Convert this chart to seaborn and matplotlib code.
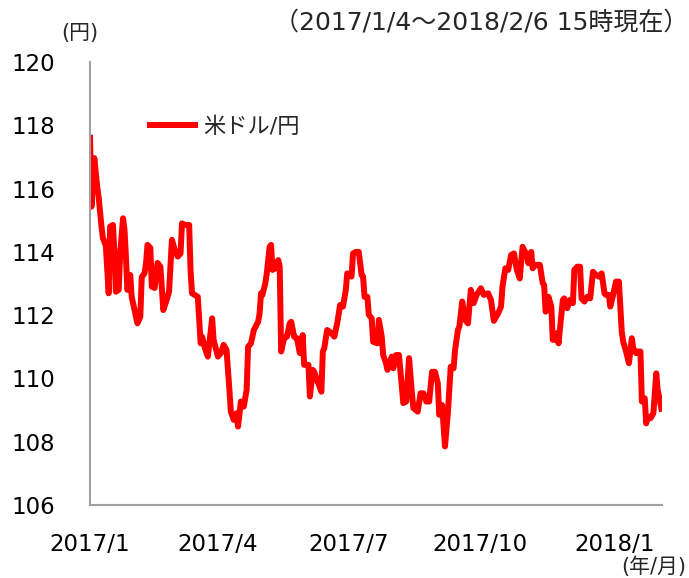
import numpy as np
import pandas as pd
import matplotlib
matplotlib.use("Agg")
import matplotlib.pyplot as plt
import seaborn as sns

# ---- data ----
# day offsets from 2017-01-01
days = [3,4,6,8,9,11,12,14,16,17,
        19,20,21,23,24,26,27,28,29,31,
        32,36,38,39,41,42,43,45,46,48,
        50,52,54,56,58,60,62,64,66,67,
        69,72,73,74,78,80,81,83,85,88,
        89,92,94,96,98,100,101,103,105,106,
        108,110,112,113,115,117,120,121,122,123,
        125,126,128,129,130,132,134,135,136,138,
        140,142,143,145,147,149,151,152,155,156,
        158,159,161,164,165,166,168,171,173,175,
        177,179,181,182,185,186,188,190,192,193,
        194,196,197,199,200,203,204,206,207,209,
        210,213,214,216,218,221,223,225,227,228,
        231,233,235,237,239,241,243,245,246,248,
        250,252,254,256,257,259,260,262,264,266,
        268,270,272,275,277,280,282,284,287,289,
        290,292,294,296,298,300,302,304,305,307,
        308,310,311,313,316,318,319,320,321,322,
        324,325,327,328,329,332,333,335,337,339,
        340,342,344,345,347,349,351,353,355,357,
        359,361,362,364,365,367,369,371,373,374,
        376,378,380,381,383,384,386,387,389,390,
        391,393,395,397,398,401]

usdjpy = [117.70,115.43,116.96,116.06,115.74,114.80,114.43,114.20,112.69,114.80,
          114.85,113.95,112.74,112.80,113.96,115.06,114.70,113.85,112.80,113.27,
          112.58,111.74,111.95,113.20,113.33,113.65,114.22,114.12,112.90,112.86,
          113.65,113.53,112.16,112.43,112.74,114.38,114.06,113.85,113.95,114.90,
          114.85,114.85,113.37,112.69,112.58,111.11,111.32,110.95,110.69,111.90,
          111.22,110.69,110.80,111.06,110.90,109.64,108.95,108.69,108.90,108.48,
          109.27,109.11,109.64,111.00,111.11,111.53,111.79,112.06,112.69,112.64,
          113.01,113.32,114.16,114.22,113.43,113.48,113.74,113.53,110.85,111.27,
          111.32,111.74,111.79,111.32,111.27,110.80,111.37,110.43,110.43,109.43,
          110.27,110.21,109.95,109.58,110.85,110.95,111.53,111.43,111.32,111.74,
          112.32,112.27,112.80,113.32,113.22,113.95,114.00,114.00,113.27,113.22,
          112.58,112.58,112.01,111.90,111.16,111.11,111.85,111.32,110.74,110.48,
          110.27,110.69,110.32,110.74,110.74,109.22,109.27,110.64,109.53,109.06,
          108.95,109.53,109.53,109.27,109.27,110.21,110.21,109.85,108.85,109.16,
          107.85,108.90,110.37,110.32,110.90,111.53,111.64,112.43,111.85,111.74,
          112.80,112.38,112.64,112.85,112.64,112.69,112.48,111.82,112.06,112.27,
          112.90,113.48,113.43,113.90,113.95,113.43,113.16,114.16,114.06,113.90,
          113.64,114.00,113.48,113.59,113.59,113.01,112.95,112.11,112.16,112.58,
          112.27,111.22,111.22,111.43,111.11,112.48,112.53,112.22,112.48,112.38,
          113.43,113.53,113.53,112.53,112.43,112.58,112.53,113.37,113.27,113.22,
          113.32,112.69,112.64,112.64,112.27,112.64,113.06,113.06,111.48,111.16,
          110.85,110.48,111.27,110.95,110.80,110.85,110.85,109.27,109.37,108.58,
          108.79,108.74,108.90,110.16,109.64,108.95]

series_name = "米ドル/円"
tick_dates = ["2017-01-04", "2017-04-03", "2017-07-03", "2017-10-02", "2018-01-04"]
tick_labels = ["2017/1", "2017/4", "2017/7", "2017/10", "2018/1"]
y_ticks = [106, 108, 110, 112, 114, 116, 118, 120]
x_range = ["2017-01-04", "2018-02-06"]

assert len(days) == len(usdjpy)

df = pd.DataFrame({
    "date": pd.Timestamp("2017-01-01") + pd.to_timedelta(days, unit="D"),
    "rate": usdjpy,
})

# ---- style ----
sns.set_theme(style="white")
plt.rcParams["font.family"] = ["DejaVu Sans", "Noto Sans CJK JP"]

fig = plt.figure(figsize=(6.89, 5.78), dpi=100)
ax = fig.add_axes([90/689, 1-505/578, (662-90)/689, (505-62)/578])

sns.lineplot(data=df, x="date", y="rate", ax=ax, color="#FF0000",
             linewidth=4.3, label=series_name, solid_joinstyle="round",
             solid_capstyle="butt")

ax.set_xlim(pd.Timestamp(x_range[0]), pd.Timestamp(x_range[1]))
ax.set_ylim(y_ticks[0], y_ticks[-1])
ax.set_xticks(pd.to_datetime(tick_dates))
ax.set_xticklabels(tick_labels)
ax.set_yticks(y_ticks)
ax.set_xlabel("")
ax.set_ylabel("")

spine_col = "#A0A0A0"
for s in ["top", "right"]:
    ax.spines[s].set_visible(False)
for s in ["left", "bottom"]:
    ax.spines[s].set_color(spine_col)
    ax.spines[s].set_linewidth(1.5)
ax.tick_params(axis="both", direction="in", length=6, width=1.5,
               color=spine_col, labelsize=16.5, labelcolor="black")
ax.tick_params(axis="y", pad=25)
ax.tick_params(axis="x", pad=20)

leg = ax.legend(loc="center left", bbox_to_anchor=(147/689, 1-127/578),
                bbox_transform=fig.transFigure, frameon=False,
                fontsize=16, handlelength=2.3, handletextpad=0.25,
                borderpad=0, borderaxespad=0)

fig.text(80/689, 1-33/578, "(円)", ha="center", va="center", fontsize=15)
fig.text(688/689, 1-22/578, "（2017/1/4～2018/2/6 15時現在）",
         ha="right", va="center", fontsize=18)
fig.text(686/689, 1-567/578, "(年/月)", ha="right", va="center", fontsize=15)

fig.savefig("out.png", dpi=100)
